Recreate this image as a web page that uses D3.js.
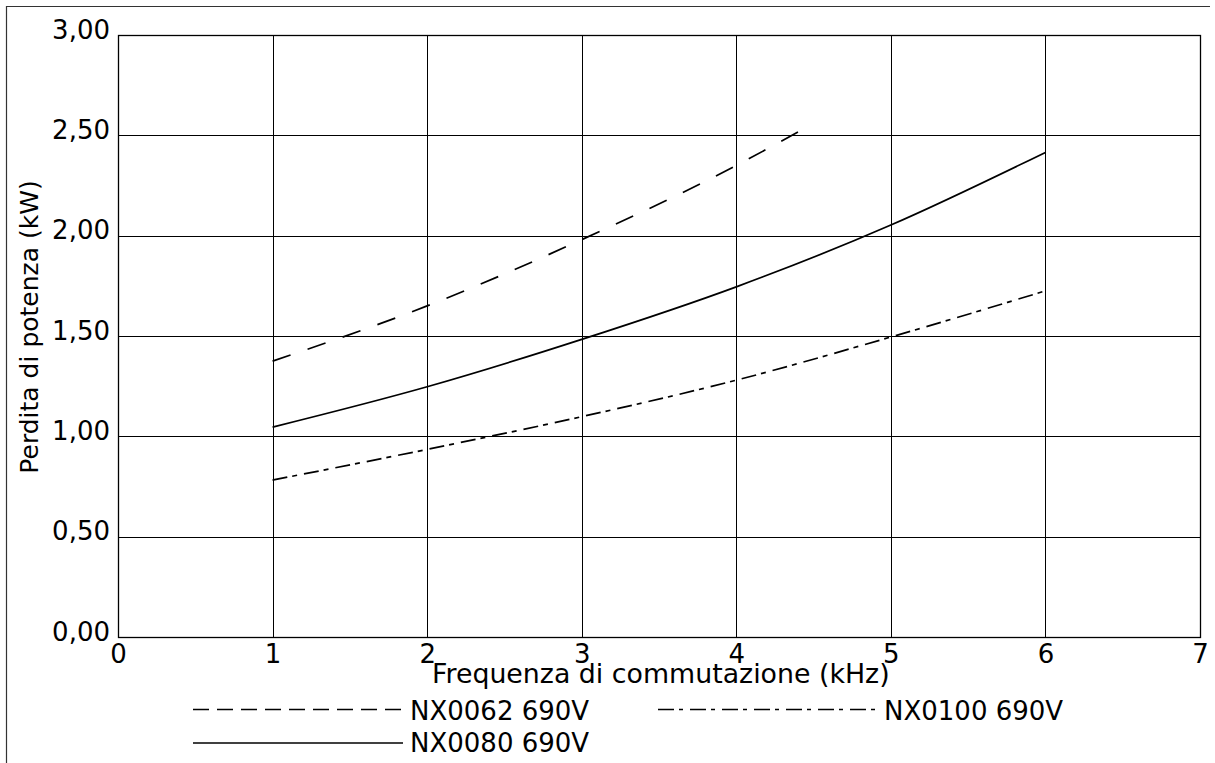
<!DOCTYPE html>
<html><head><meta charset="utf-8">
<script src="https://cdn.jsdelivr.net/npm/d3@7"></script>
<style>body{margin:0;background:#fff}svg{display:block}text{font-family:"DejaVu Sans",Verdana,sans-serif;fill:#000}</style>
</head><body>
<svg id="c" width="1215" height="763"></svg>
<script>
const xTicks = [0,1,2,3,4,5,6,7];
const yTicks = [0,0.5,1,1.5,2,2.5,3];
const yTickLabels = ["0,00","0,50","1,00","1,50","2,00","2,50","3,00"];
const seriesNames = ["NX0062 690V","NX0100 690V","NX0080 690V"];
const nx0062X = [1,2,3,4,4.43];
const nx0062Y = [1.375,1.65,1.98,2.35,2.53];
const nx0080X = [1,2,3,4,5,6];
const nx0080Y = [1.046,1.247,1.483,1.745,2.053,2.415];
const nx0100X = [1,2,3,4,5,6];
const nx0100Y = [0.782,0.935,1.098,1.28,1.495,1.725];
const xTitle = "Frequenza di commutazione (kHz)";
const yTitle = "Perdita di potenza (kW)";

const svg = d3.select("#c");
const x = d3.scaleLinear().domain([0,7]).range([118,1200]);
const y = d3.scaleLinear().domain([0,3]).range([637,35]);
const px = v => Math.round(v)+0.5;

// outer frame (left + top)
svg.append("path").attr("d","M6.5,763V6.5H1210").attr("fill","none").attr("stroke","#333").attr("stroke-width",1.2);

const g = svg.append("g");
// grid
g.selectAll(".vg").data(xTicks.slice(1,-1)).join("line")
  .attr("x1",d=>px(x(d))).attr("x2",d=>px(x(d))).attr("y1",y(3)).attr("y2",y(0))
  .attr("stroke","#000").attr("stroke-width",1);
g.selectAll(".hg").data(yTicks.slice(1,-1)).join("line")
  .attr("y1",d=>px(y(d))).attr("y2",d=>px(y(d))).attr("x1",x(0)).attr("x2",x(7))
  .attr("stroke","#000").attr("stroke-width",1);
g.append("rect").attr("x",px(x(0))).attr("y",px(y(3))).attr("width",Math.round(x(7)-x(0))).attr("height",Math.round(y(0)-y(3)))
  .attr("fill","none").attr("stroke","#000").attr("stroke-width",1.3);

// axes labels via d3 axis
const xAxis = d3.axisBottom(x).tickValues(xTicks).tickFormat(d=>String(d)).tickSize(0).tickPadding(0);
const xa = svg.append("g").attr("transform",`translate(0,${y(0)})`).call(xAxis);
xa.select(".domain").remove();
xa.selectAll("text").attr("font-size",26).attr("font-family","DejaVu Sans").attr("fill","#000").attr("dy",null).attr("y",26);

const yAxis = d3.axisLeft(y).tickValues(yTicks).tickFormat((d,i)=>yTickLabels[i]).tickSize(0).tickPadding(0);
const ya = svg.append("g").attr("transform",`translate(110,0)`).call(yAxis);
ya.select(".domain").remove();
ya.selectAll("text").attr("font-size",26).attr("font-family","DejaVu Sans").attr("fill","#000").attr("dy",null).attr("x",0).attr("y",3).attr("text-anchor","end");

svg.append("text").attr("x",432).attr("y",683).attr("font-size",26.8).text(xTitle);
svg.append("text").attr("transform","translate(38,327) rotate(-90)").attr("text-anchor","middle").attr("font-size",25).text(yTitle);

// series
const line = d3.line().x(d=>x(d[0])).y(d=>y(d[1])).curve(d3.curveMonotoneX);
const series = [
  {name:seriesNames[0], pts:nx0062X.map((v,i)=>[v,nx0062Y[i]]), dash:"19,18", ldash:"16,8"},
  {name:seriesNames[1], pts:nx0100X.map((v,i)=>[v,nx0100Y[i]]), dash:"15,5,5,7", ldash:"16,5,4,7"},
  {name:seriesNames[2], pts:nx0080X.map((v,i)=>[v,nx0080Y[i]]), dash:null, ldash:null}
];
series.forEach(s=>{
  svg.append("path").attr("d",line(s.pts)).attr("fill","none").attr("stroke","#000")
    .attr("stroke-width",1.7).attr("stroke-dasharray",s.dash);
});

// legend
const leg = [
  {s:series[0], x1:193, x2:403, ly:709.5, tx:410, ty:720},
  {s:series[1], x1:658, x2:881, ly:709.5, tx:884, ty:720},
  {s:series[2], x1:193, x2:403, ly:743, tx:410, ty:752}
];
leg.forEach(l=>{
  svg.append("line").attr("x1",l.x1).attr("x2",l.x2).attr("y1",l.ly).attr("y2",l.ly)
    .attr("stroke","#000").attr("stroke-width",1.5).attr("stroke-dasharray",l.s.ldash);
  svg.append("text").attr("x",l.tx).attr("y",l.ty).attr("font-size",26).text(l.s.name);
});
</script>
</body></html>
